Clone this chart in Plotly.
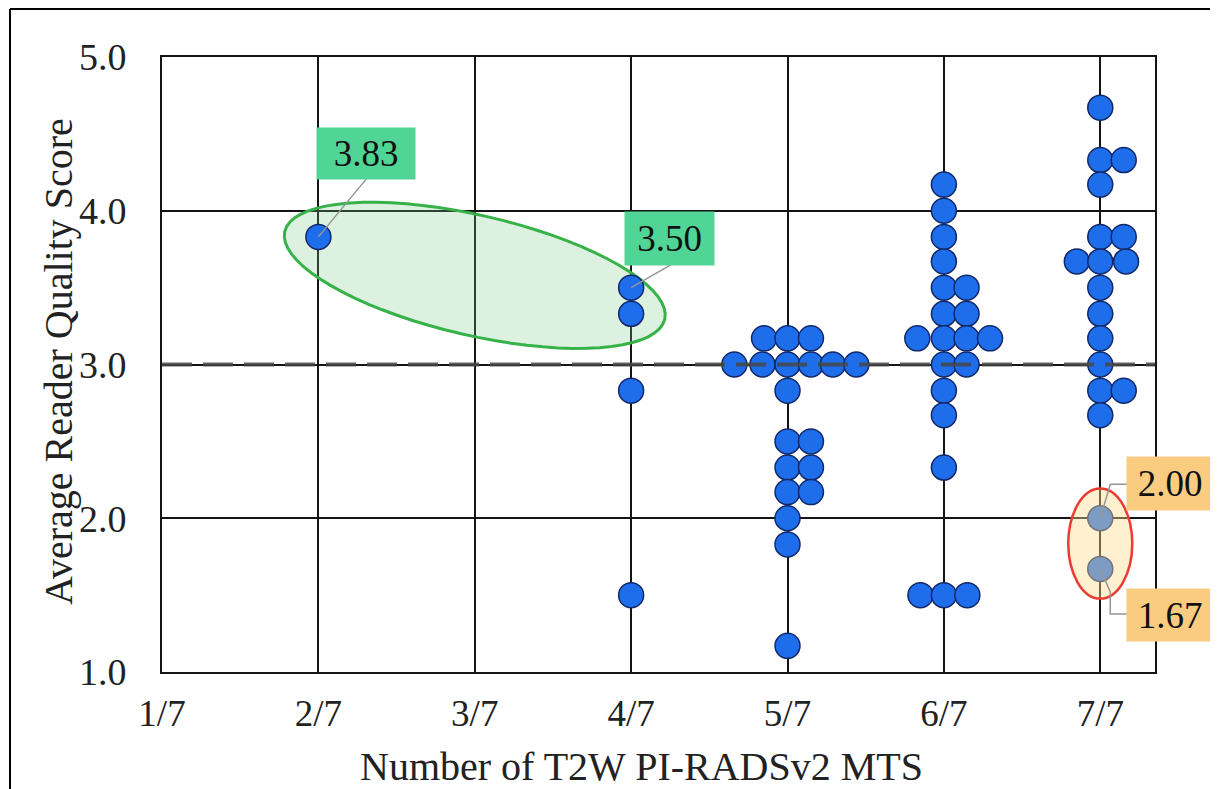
import math
import plotly.graph_objects as go

# ---------------- data ----------------
categories = ["1/7", "2/7", "3/7", "4/7", "5/7", "6/7", "7/7"]
y_ticks = [1.0, 2.0, 3.0, 4.0, 5.0]
y_tick_labels = ["1.0", "2.0", "3.0", "4.0", "5.0"]

g2_scores = [3.83]
g2_offsets = [0.0]

g4_scores = [3.50, 3.33, 2.83, 1.50]
g4_offsets = [0.0, 0.0, 0.0, 0.0]

g5_scores = [3.17, 3.17, 3.17, 3.00, 3.00, 3.00, 3.00, 3.00, 3.00, 2.83,
             2.50, 2.50, 2.33, 2.33, 2.17, 2.17, 2.00, 1.83, 1.17]
g5_offsets = [-0.15, 0.0, 0.15, -0.34, -0.16, 0.0, 0.15, 0.29, 0.44, 0.0,
              0.0, 0.15, 0.0, 0.15, 0.0, 0.15, 0.0, 0.0, 0.0]

g6_scores = [4.17, 4.00, 3.83, 3.67, 3.50, 3.50, 3.33, 3.33, 3.17, 3.17, 3.17, 3.17,
             3.00, 3.00, 2.83, 2.67, 2.33, 1.50, 1.50, 1.50]
g6_offsets = [0.0, 0.0, 0.0, 0.0, 0.0, 0.145, 0.0, 0.145, -0.17, 0.0, 0.145, 0.295,
              0.0, 0.145, 0.0, 0.0, 0.0, -0.15, 0.0, 0.15]

g7_scores = [4.67, 4.33, 4.33, 4.17, 3.83, 3.83, 3.67, 3.67, 3.67, 3.50, 3.33, 3.17,
             3.00, 2.83, 2.83, 2.67, 2.00, 1.67]
g7_offsets = [0.0, 0.0, 0.15, 0.0, 0.0, 0.15, -0.15, 0.0, 0.165, 0.0, 0.0, 0.0,
              0.0, 0.0, 0.15, 0.0, 0.0, 0.0]

threshold = 3.0

# labelled points: (category position, score)
green_labels = [(2, 3.83), (4, 3.50)]
orange_labels = [(7, 2.00), (7, 1.67)]

# ---------------- figure ----------------
OFF = 8  # default page margin of the html body
W, H = 1218 - OFF, 789 - OFF
PL, PR, PT, PB = 162 - OFF, 1155 - OFF, 57 - OFF, 672 - OFF
FONT = "Liberation Serif, Times New Roman, serif"


def px_paper_x(sx):
    return (sx - OFF - PL) / (PR - PL)


def px_paper_y(sy):
    return (PB - (sy - OFF)) / (PB - PT)


groups = [(2, g2_scores, g2_offsets), (4, g4_scores, g4_offsets),
          (5, g5_scores, g5_offsets), (6, g6_scores, g6_offsets),
          (7, g7_scores, g7_offsets)]

xs, ys = [], []
for pos, sc, off in groups:
    for s, o in zip(sc, off):
        xs.append(pos + o)
        ys.append(s)

fig = go.Figure()
fig.add_trace(go.Scatter(
    x=xs, y=ys, mode="markers",
    marker=dict(size=25, color="rgb(30,110,235)",
                line=dict(color="rgb(18,40,105)", width=1.5)),
    showlegend=False, hoverinfo="x+y",
))

shapes = []

# green rotated ellipse (pixel-sized, anchored between the two labelled points)
a, b, th = 195.0, 60.0, math.radians(-13.0)
pts = []
for i in range(73):
    t = 2 * math.pi * i / 72
    ex = a * math.cos(t) * math.cos(th) - b * math.sin(t) * math.sin(th)
    ey = a * math.cos(t) * math.sin(th) + b * math.sin(t) * math.cos(th)
    pts.append((ex, ey))
path = "M " + " L ".join(f"{p[0]:.2f},{p[1]:.2f}" for p in pts) + " Z"
shapes.append(dict(
    type="path", path=path, xref="x", yref="y",
    xsizemode="pixel", ysizemode="pixel",
    xanchor=(green_labels[0][0] + green_labels[1][0]) / 2,
    yanchor=(green_labels[0][1] + green_labels[1][1] - 0.17) / 2,
    line=dict(color="rgb(55,178,72)", width=3),
    fillcolor="rgba(120,200,130,0.25)", layer="between",
))

# threshold dashed line
shapes.append(dict(type="line", xref="paper", yref="y", x0=0, x1=1,
                   y0=threshold, y1=threshold, layer="above",
                   line=dict(color="rgba(70,70,70,0.85)", width=4, dash="30px,11px")))

# red ellipse around the two low 7/7 points
shapes.append(dict(
    type="circle", xref="x", yref="y", xsizemode="pixel", ysizemode="pixel",
    xanchor=orange_labels[0][0], yanchor=(orange_labels[0][1] + orange_labels[1][1]) / 2,
    x0=-32, x1=32, y0=-55, y1=55,
    line=dict(color="rgb(235,60,50)", width=2.5),
    fillcolor="rgba(255,220,140,0.42)", layer="above",
))

# leader lines (pixel offsets from each labelled point; y up)
leader_paths = {
    (2, 3.83): [(0, 0), (48, 58)],
    (4, 3.50): [(0, 0), (40, 23)],
    (7, 2.00): [(0, 0), (10, 34), (27, 34)],
    (7, 1.67): [(0, 0), (10, -23), (10, -45), (27, -45)],
}
for (px_, py_), seg in leader_paths.items():
    p = "M " + " L ".join(f"{u},{v}" for u, v in seg)
    shapes.append(dict(type="path", path=p, xref="x", yref="y",
                       xsizemode="pixel", ysizemode="pixel",
                       xanchor=px_, yanchor=py_, layer="above",
                       line=dict(color="rgb(150,150,150)", width=1.5)))

# outer frame (left and top)
shapes.append(dict(type="line", xref="paper", yref="paper",
                   x0=px_paper_x(10), x1=px_paper_x(10),
                   y0=px_paper_y(9), y1=px_paper_y(800),
                   line=dict(color="black", width=2)))
shapes.append(dict(type="line", xref="paper", yref="paper",
                   x0=px_paper_x(10), x1=px_paper_x(1230),
                   y0=px_paper_y(9), y1=px_paper_y(9),
                   line=dict(color="black", width=2)))

annotations = []
box_offsets = {
    (2, 3.83): (48, 83, 98, 51),
    (4, 3.50): (38.5, 49.5, 89, 53),
    (7, 2.00): (70, 34.5, 86, 53),
    (7, 1.67): (70, -46, 86, 52),
}
for (px_, py_), (dx, dy, bw, bh) in box_offsets.items():
    col = "rgb(80,213,150)" if (px_, py_) in green_labels else "rgb(249,204,128)"
    annotations.append(dict(
        x=px_, y=py_, xref="x", yref="y", text=f"{py_:.2f}", showarrow=False,
        xshift=dx, yshift=dy, width=bw, height=bh, bgcolor=col,
        borderpad=0, align="center", valign="middle",
        font=dict(family=FONT, size=37, color="#111")))

annotations.append(dict(
    x=px_paper_x(641), y=px_paper_y(766), xref="paper", yref="paper",
    text="Number of T2W PI-RADSv2 MTS", showarrow=False,
    xanchor="center", yanchor="middle",
    font=dict(family=FONT, size=40, color="#222")))
annotations.append(dict(
    x=px_paper_x(58), y=px_paper_y(362), xref="paper", yref="paper",
    text="Average Reader Quality Score", showarrow=False, textangle=-90,
    xanchor="center", yanchor="middle",
    font=dict(family=FONT, size=40, color="#222")))

fig.update_layout(
    width=W, height=H,
    margin=dict(l=PL, r=W - PR, t=PT, b=H - PB, pad=0),
    paper_bgcolor="white", plot_bgcolor="white",
    shapes=shapes, annotations=annotations,
    xaxis=dict(range=[1, 7.35], tickvals=list(range(1, 8)), ticktext=categories,
               showgrid=True, gridcolor="rgb(20,20,20)", gridwidth=2,
               showline=True, linecolor="rgb(20,20,20)", linewidth=2, mirror=True,
               zeroline=False, ticks="", ticklabelstandoff=8,
               tickfont=dict(family=FONT, size=37, color="#222")),
    yaxis=dict(range=[1, 5], tickvals=y_ticks, ticktext=y_tick_labels,
               showgrid=True, gridcolor="rgb(20,20,20)", gridwidth=2,
               showline=True, linecolor="rgb(20,20,20)", linewidth=2, mirror=True,
               zeroline=False, ticks="", ticklabelstandoff=26,
               tickfont=dict(family=FONT, size=38, color="#222")),
)

fig.write_html("out.html")
